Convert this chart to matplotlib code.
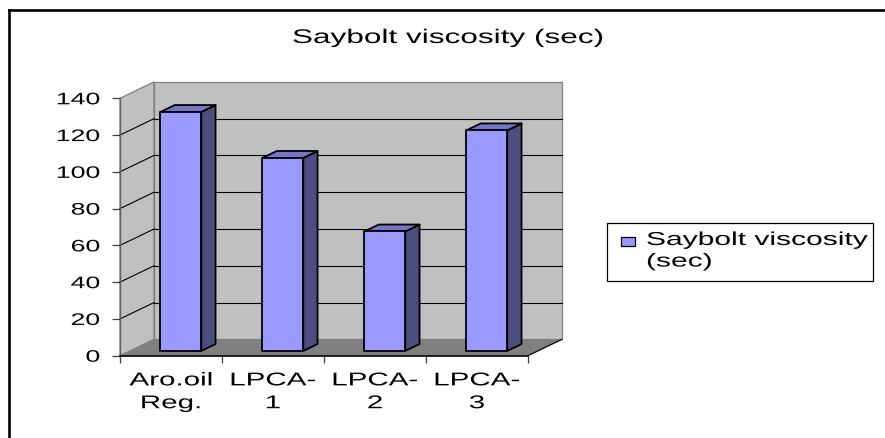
import matplotlib
matplotlib.use('Agg')
import matplotlib.pyplot as plt
from matplotlib.patches import Polygon
from matplotlib.lines import Line2D
from matplotlib.patheffects import AbstractPathEffect
from matplotlib.transforms import Affine2D

# ---------------- data ----------------
categories = ["Aro.oil\nReg.", "LPCA-\n1", "LPCA-\n2", "LPCA-\n3"]
values = [130, 105, 65, 120]
title_text = "Saybolt viscosity (sec)"
legend_label = "Saybolt viscosity\n(sec)"
yticks = [0, 20, 40, 60, 80, 100, 120, 140]

plt.rcParams['font.family'] = ['Liberation Sans', 'DejaVu Sans']


class HStretch(AbstractPathEffect):
    """Stretch glyphs horizontally (the reference text is rendered wide)."""
    def __init__(self, sx=1.6, anchor='center'):
        super().__init__()
        self.sx = sx
        self.anchor = anchor

    def draw_path(self, renderer, gc, tpath, affine, rgbFace=None):
        ref = 0.0
        if len(tpath.vertices):
            ext = tpath.get_extents()
            if self.anchor == 'center':
                ref = (ext.x0 + ext.x1) / 2
            elif self.anchor == 'right':
                ref = ext.x1
        tr = Affine2D().translate(-ref, 0).scale(self.sx, 1).translate(ref, 0) + affine
        renderer.draw_path(gc, tpath, tr, rgbFace)


SX = 1.6
W, H = 885, 438
fig = plt.figure(figsize=(W / 100, H / 100), dpi=100)
fig.patch.set_facecolor('white')

# front plane of the 3-D box
ax = fig.add_axes([120 / W, (H - 355.7) / H, 408 / W, 257.4 / H])
ax.set_facecolor('none')
ymax = yticks[-1]
n = len(categories)
ax.set_xlim(0, n)
ax.set_ylim(0, ymax)

DX = 34 / 102.0                 # depth offset in category units
DY = 16.4 / (257.4 / ymax)      # depth offset in value units

wall_c = '#C0C0C0'
floor_c = '#808080'
edge_c = '#808080'

# side wall
ax.add_patch(Polygon([(0, 0), (DX, DY), (DX, ymax + DY), (0, ymax)], closed=True,
                     facecolor=wall_c, edgecolor=edge_c, lw=0.9, clip_on=False, zorder=1))
# back wall
ax.add_patch(Polygon([(DX, DY), (n + DX, DY), (n + DX, ymax + DY), (DX, ymax + DY)], closed=True,
                     facecolor=wall_c, edgecolor=edge_c, lw=0.9, clip_on=False, zorder=1))
# floor
ax.add_patch(Polygon([(0, 0), (n, 0), (n + DX, DY), (DX, DY)], closed=True,
                     facecolor=floor_c, edgecolor='none', clip_on=False, zorder=1.5))
ax.add_line(Line2D([n, n + DX], [0, DY], color='black', lw=0.9, clip_on=False, zorder=1.6))

# gridlines
for v in yticks[1:-1]:
    ax.add_line(Line2D([DX, n + DX], [v + DY, v + DY], color='black', lw=0.8,
                       clip_on=False, zorder=2))
    ax.add_line(Line2D([0, DX], [v, v + DY], color='black', lw=0.8,
                       clip_on=False, zorder=2))

# bars
f0, f1 = 0.29, 0.71
bw = 0.4
front_c = '#9999FF'
side_c = '#4D4D80'
top_c = '#7676C4'
ddx, ddy = (f1 - f0) * DX, (f1 - f0) * DY
for i, h in enumerate(values):
    x0 = i + 0.5 - bw / 2 + f0 * DX
    x1 = x0 + bw
    y0 = f0 * DY
    y1 = h + f0 * DY
    kw = dict(closed=True, edgecolor='black', lw=1.3, clip_on=False, zorder=3,
              joinstyle='round')
    ax.add_patch(Polygon([(x1, y0), (x1 + ddx, y0 + ddy), (x1 + ddx, y1 + ddy), (x1, y1)],
                         facecolor=side_c, **kw))
    ax.add_patch(Polygon([(x0, y1), (x1, y1), (x1 + ddx, y1 + ddy), (x0 + ddx, y1 + ddy)],
                         facecolor=top_c, **kw))
    ax.add_patch(Polygon([(x0, y0), (x1, y0), (x1, y1), (x0, y1)],
                         facecolor=front_c, **kw))

# axes / ticks
for s in ('top', 'right'):
    ax.spines[s].set_visible(False)
ax.spines['left'].set_color('#606060')
ax.spines['left'].set_linewidth(1.0)
ax.spines['bottom'].set_color('black')
ax.spines['bottom'].set_linewidth(1.2)
ax.spines['left'].set_zorder(4)
ax.spines['bottom'].set_zorder(4)

ax.set_yticks(yticks)
ax.set_yticklabels([str(v) for v in yticks])
ax.tick_params(axis='y', direction='out', length=6, width=0.9, color='#404040',
               labelsize=12, pad=8.5)
ax.set_xticks(range(n + 1))
ax.set_xticklabels([''] * (n + 1))
ax.set_xticks([i + 0.5 for i in range(n)], minor=True)
ax.set_xticklabels(categories, minor=True, linespacing=1.45)
ax.tick_params(axis='x', which='major', direction='out', length=5, width=0.9, color='#404040')
ax.tick_params(axis='x', which='minor', length=0, labelsize=13.3, pad=12)

for t in ax.get_yticklabels():
    t.set_path_effects([HStretch(SX, 'right')])
for t in ax.get_xticklabels(minor=True):
    t.set_path_effects([HStretch(SX, 'center')])

# title
fig.text(448.5 / W, (H - 43) / H, title_text, ha='center', va='baseline', fontsize=14.2,
         path_effects=[HStretch(SX, 'center')])

# legend (drawn by hand to match the stretched look)
fig.add_artist(plt.Rectangle((607 / W, (H - 281) / H), 266 / W, 58 / H, transform=fig.transFigure,
                             facecolor='white', edgecolor='black', lw=0.9))
fig.add_artist(plt.Rectangle((621 / W, (H - 246) / H), 14 / W, 9 / H, transform=fig.transFigure,
                             facecolor=front_c, edgecolor='black', lw=0.9))
fig.text(646 / W, (H - 232) / H, legend_label, ha='left', va='top', fontsize=13.5,
         linespacing=1.35, path_effects=[HStretch(SX, 'left')])

# outer chart border (left and top edges visible)
fig.add_artist(Line2D([9 / W, 9 / W], [0, (H - 10) / H], transform=fig.transFigure,
                      color='black', lw=1.9))
fig.add_artist(Line2D([9 / W, 1], [(H - 10) / H, (H - 10) / H], transform=fig.transFigure,
                      color='black', lw=1.9))

fig.savefig('out.png', dpi=100)
